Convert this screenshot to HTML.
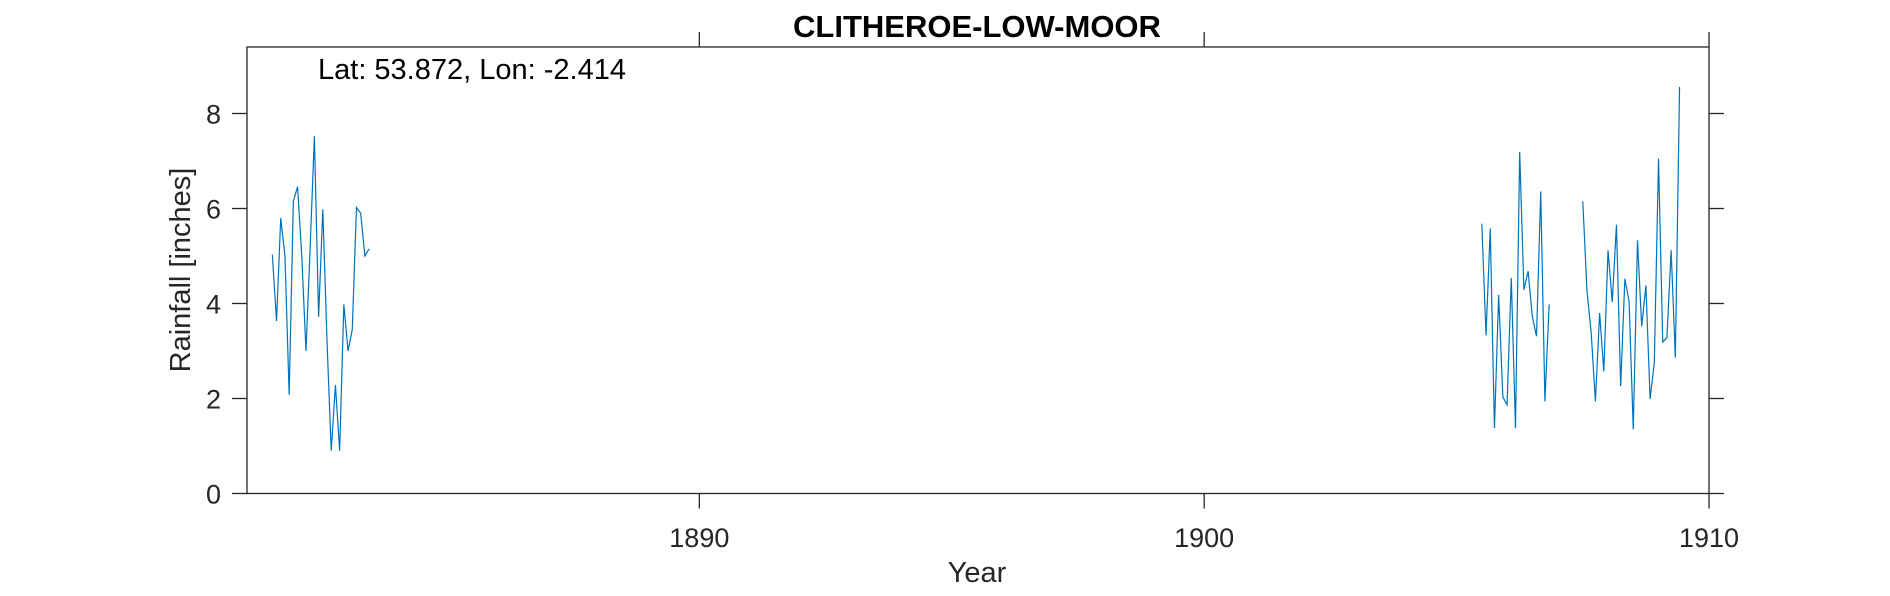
<!DOCTYPE html>
<html><head><meta charset="utf-8"><style>
body{margin:0;background:#fff;}
svg text{font-family:"Liberation Sans",Arial,sans-serif;fill:#262626;}
</style></head><body>
<svg id="chart" width="1890" height="591" xmlns="http://www.w3.org/2000/svg">
<rect width="1890" height="591" fill="#fff"/>
<g id="axes"></g>
<g id="series"></g>
<text x="977" y="37" text-anchor="middle" font-size="31" font-weight="bold" style="fill:#000">CLITHEROE-LOW-MOOR</text>
<text x="318" y="79" font-size="29" style="fill:#000">Lat: 53.872, Lon: -2.414</text>
<text x="977" y="582" text-anchor="middle" font-size="29">Year</text>
<text transform="translate(190,270) rotate(-90)" text-anchor="middle" font-size="29">Rainfall [inches]</text>
</svg>
<script>
const seg1Start = 1881.5417;
const seg1Values = [5.03,3.63,5.80,5.0,2.08,6.15,6.46,5.0,3.0,5.2,7.52,3.72,5.98,3.2,0.9,2.28,0.9,3.98,3.0,3.45,6.02,5.9,5.0,5.15];
const seg2Start = 1905.5;
const seg2Values = [5.68,3.33,5.58,1.38,4.18,2.03,1.87,4.54,1.38,7.19,4.29,4.68,3.73,3.31,6.36,1.94,3.98,null,null,null,null,null,null,null,6.15,4.26,3.38,1.94,3.80,2.57,5.12,4.03,5.66,2.26,4.52,4.05,1.35,5.33,3.52,4.38,1.99,2.75,7.05,3.19,3.28,5.12,2.86,8.56];
const xTicks = [1890,1900,1910];
const yTicks = [0,2,4,6,8];

const L=247,R=1709,T=47,B=493.5;
const xMin=1881.04,xMax=1910.0,yMax=(B-T)/47.5;
const sx=v=>L+(v-xMin)/(xMax-xMin)*(R-L);
const sy=v=>B-v/yMax*(B-T);
const NS="http://www.w3.org/2000/svg";
const ax=document.getElementById('axes');
function mk(tag,attrs,parent){const e=document.createElementNS(NS,tag);for(const k in attrs)e.setAttribute(k,attrs[k]);parent.appendChild(e);return e;}
const box=mk('rect',{x:L,y:T,width:R-L,height:B-T,fill:'none',stroke:'#262626','stroke-width':1.3},ax);


xTicks.forEach(t=>{
  const x=sx(t);
  const a=mk('line',{x1:x,x2:x,y1:B,y2:B+15,stroke:'#262626','stroke-width':1.3},ax);
  
  
  const b=mk('line',{x1:x,x2:x,y1:T,y2:T-15,stroke:'#262626','stroke-width':1.3},ax);
  
  
  const tx=mk('text',{x:x,y:547,'text-anchor':'middle','font-size':27},ax);
  tx.textContent=t;
  
  
});
yTicks.forEach(t=>{
  const y=sy(t);
  const a=mk('line',{x1:L-15,x2:L,y1:y,y2:y,stroke:'#262626','stroke-width':1.3},ax);
  
  
  const b=mk('line',{x1:R,x2:R+15,y1:y,y2:y,stroke:'#262626','stroke-width':1.3},ax);
  
  
  const tx=mk('text',{x:L-26,y:y+10,'text-anchor':'end','font-size':27},ax);
  tx.textContent=t;
  
  
});
const sg=document.getElementById('series');
function drawSeg(start,vals,name){
  let d='',pen=false;
  vals.forEach((v,i)=>{
    if(v===null){pen=false;return;}
    d+=(pen?'L':'M')+sx(start+i/12).toFixed(2)+' '+sy(v).toFixed(2)+' ';
    pen=true;
  });
  const p=mk('path',{d:d,fill:'none',stroke:'#0072BD','stroke-width':1.2},sg);
  
  
}
drawSeg(seg1Start,seg1Values,'rainfall-line-1881');
drawSeg(seg2Start,seg2Values,'rainfall-line-1905');
</script>
</body></html>
